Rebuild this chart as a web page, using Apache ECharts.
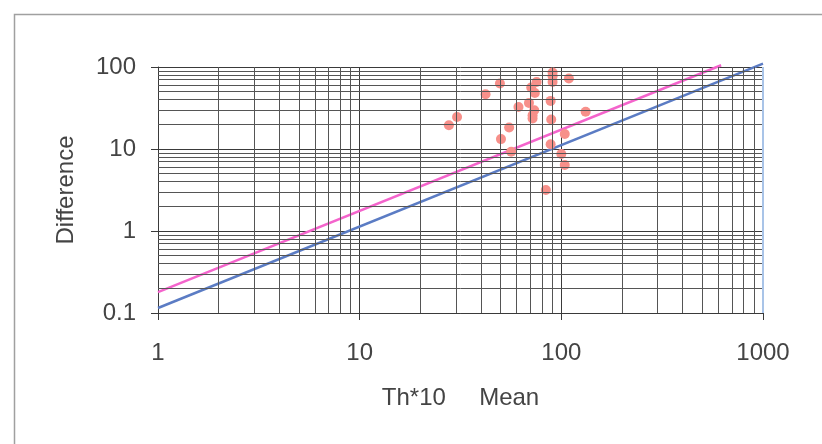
<!DOCTYPE html>
<html>
<head>
<meta charset="utf-8">
<script src="https://cdn.jsdelivr.net/npm/echarts@6/dist/echarts.min.js"></script>
<style>
html,body{margin:0;padding:0;background:#fff;}
#chart{width:822px;height:444px;}
</style>
</head>
<body>
<div id="chart"></div>
<script>
// Scatter data (Th*10 Mean vs Difference)
var meanValues = [27.7, 30.4, 42.1, 49.6, 50.2, 55.1, 56.4, 61.3, 69.1, 70.9, 75.4, 73.9, 73.4, 72.0, 72.0, 90.5, 90.5, 90.5, 88.5, 89.1, 88.5, 100, 104, 104, 109, 132, 83.8];
var diffValues = [19.5, 24.6, 46.5, 62.8, 13.2, 18.3, 9.25, 32.6, 36.5, 56.1, 65.7, 48.3, 29.7, 25.8, 23.5, 85.5, 77.1, 65.7, 38.6, 22.9, 11.4, 8.67, 6.37, 15.2, 72.3, 28.4, 3.16];
// Reference lines
var pinkLineX = [1, 620];
var pinkLineY = [0.18, 105];
var blueLineX = [1, 1000];
var blueLineY = [0.115, 110];
// Tick labels
var xTickLabels = ['1', '10', '100', '1000'];
var yTickLabels = ['0.1', '1', '10', '100'];
var xAxisTitle = 'Th*10     Mean';
var yAxisTitle = 'Difference';

function minorValues(lo, hi) {
  var out = [];
  for (var d = lo; d < hi; d *= 10) {
    for (var k = 2; k <= 9; k++) out.push(+(k * d).toPrecision(6));
  }
  return out;
}
var xMinor = minorValues(1, 1000);
var yMinor = minorValues(0.1, 100);

function zip(a, b) { return a.map(function (v, i) { return [v, b[i]]; }); }

var textColor = '#444';
var gridColor = '#3a3a3a';
var font = 'Liberation Sans, Arial, sans-serif';

var chart = echarts.init(document.getElementById('chart'), null, {renderer: 'canvas'});
chart.setOption({
  animation: false,
  backgroundColor: '#fff',
  grid: {left: 158, right: 59, top: 67, bottom: 131, containLabel: false},
  graphic: [{
    type: 'rect', left: 12, top: 12, silent: true, z: -10,
    shape: {width: 830, height: 500},
    style: {fill: 'none', stroke: '#a0a0a0', lineWidth: 1.5}
  }],
  xAxis: {
    type: 'log', logBase: 10, min: 1, max: 1000,
    name: xAxisTitle, nameLocation: 'middle', nameGap: 73,
    nameTextStyle: {fontFamily: font, fontSize: 24, color: textColor},
    axisLine: {show: true, lineStyle: {color: gridColor, width: 1}},
    axisTick: {show: true, length: 7, lineStyle: {color: gridColor}},
    axisLabel: {
      margin: 28, fontFamily: font, fontSize: 24, color: textColor,
      formatter: function (v) {
        var i = Math.round(Math.log10(v));
        return xTickLabels[i] !== undefined ? xTickLabels[i] : '';
      }
    },
    splitLine: {show: true, lineStyle: {color: gridColor, width: 1}}
  },
  yAxis: {
    type: 'log', logBase: 10, min: 0.1, max: 100,
    name: yAxisTitle, nameLocation: 'middle', nameGap: 80,
    nameTextStyle: {fontFamily: font, fontSize: 24, color: textColor},
    axisLine: {show: true, lineStyle: {color: gridColor, width: 1}},
    axisTick: {show: true, length: 7, lineStyle: {color: gridColor}},
    axisLabel: {
      margin: 22, fontFamily: font, fontSize: 24, color: textColor,
      formatter: function (v) {
        var i = Math.round(Math.log10(v)) + 1;
        return yTickLabels[i] !== undefined ? yTickLabels[i] : '';
      }
    },
    splitLine: {show: true, lineStyle: {color: gridColor, width: 1}}
  },
  series: [
    {
      type: 'line', data: [], silent: true, z: 1,
      markLine: {
        silent: true, symbol: 'none', animation: false,
        label: {show: false},
        lineStyle: {color: '#555', width: 1, type: 'solid'},
        data: xMinor.map(function (v) { return {xAxis: v}; })
          .concat(yMinor.map(function (v) { return {yAxis: v}; }))
      }
    },
    {
      type: 'line', data: [], silent: true, z: 1,
      markLine: {
        silent: true, symbol: 'none', animation: false,
        label: {show: false},
        lineStyle: {color: '#a9c4e8', width: 2, type: 'solid'},
        data: [{xAxis: 1000}]
      }
    },
    {
      type: 'line', data: zip(blueLineX, blueLineY), showSymbol: false, clip: false, z: 3,
      lineStyle: {color: '#5b7cc4', width: 2.5}
    },
    {
      type: 'line', data: zip(pinkLineX, pinkLineY), showSymbol: false, clip: false, z: 3,
      lineStyle: {color: '#f464cc', width: 2.5}
    },
    {
      type: 'scatter', data: zip(meanValues, diffValues), symbol: 'circle', symbolSize: 10, z: 4,
      itemStyle: {color: '#f7908a', opacity: 1}
    }
  ]
});
</script>
</body>
</html>
